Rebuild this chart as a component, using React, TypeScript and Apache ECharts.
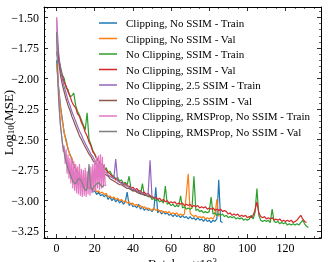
import React, { useEffect, useRef } from 'react';
import * as echarts from 'echarts';

const FONT = '"Liberation Serif", "Times New Roman", serif';

const seriesNames = [
  'Clipping, No SSIM - Train',
  'Clipping, No SSIM - Val',
  'No Clipping, SSIM - Train',
  'No Clipping, SSIM - Val',
  'No Clipping, 2.5 SSIM - Train',
  'No Clipping, 2.5 SSIM - Val',
  'No Clipping, RMSProp, No SSIM - Train',
  'No Clipping, RMSProp, No SSIM - Val',
];
const colors = ['#1f77b4', '#ff7f0e', '#2ca02c', '#d62728', '#9467bd', '#8c564b', '#e377c2', '#7f7f7f'];

// x step 1 (×10^3 batches)
const clipTrain = [
  -1.85, -2.06, -2.22, -2.33, -2.45, -2.50, -2.58, -2.62, -2.66, -2.72,
  -2.74, -2.78, -2.79, -2.83, -2.84, -2.87, -2.86, -2.90, -2.89, -2.93,
  -2.92, -2.95, -2.93, -2.96, -2.95, -2.97, -2.95, -2.99, -2.97, -3.00,
  -2.98, -3.01, -2.99, -3.02, -3.00, -3.03, -3.01, -2.93, -3.04, -3.02,
  -3.05, -3.04, -3.06, -3.03, -3.07, -3.05, -3.08, -3.06, -3.08, -3.07,
  -3.09, -3.07, -2.89, -3.10, -3.08, -3.11, -3.09, -3.11, -3.10, -3.12,
  -3.11, -3.13, -3.11, -3.13, -3.12, -3.14, -3.12, -3.14, -3.13, -3.15,
  -3.13, -3.15, -3.14, -3.16, -3.14, -3.16, -3.15, -3.17, -3.15, -3.17,
  -3.16, -3.18, -3.16, -3.17, -3.15, -2.83, -3.17, -3.18,
];
const clipVal = [
  -1.88, -2.08, -2.24, -2.35, -2.44, -2.52, -2.57, -2.63, -2.65, -2.70,
  -2.73, -2.76, -2.79, -2.81, -2.83, -2.85, -2.86, -2.88, -2.88, -2.91,
  -2.90, -2.93, -2.92, -2.94, -2.93, -2.95, -2.94, -2.97, -2.96, -2.98,
  -2.97, -2.99, -2.98, -3.00, -2.99, -3.01, -3.00, -3.02, -3.01, -3.03,
  -3.02, -3.04, -3.03, -3.05, -3.04, -3.06, -3.05, -3.07, -3.06, -3.07,
  -3.08, -3.06, -3.08, -3.07, -3.09, -3.08, -3.10, -3.09, -3.10, -3.09,
  -3.11, -3.10, -3.11, -3.10, -3.12, -3.11, -3.12, -3.11, -2.95, -2.78,
  -3.10, -3.12, -3.13, -3.12, -3.14, -3.13, -3.14, -3.13, -3.15, -3.14,
  -3.15, -3.14, -3.15, -3.12, -2.99, -3.13,
];
const ssimTrain = [
  -1.80, -1.84, -1.90, -1.97, -2.00, -2.08, -2.09, -2.15, -2.14, -2.12,
  -2.22, -2.27, -2.30, -2.34, -2.38, -2.42, -2.28, -2.50, -2.54, -2.59,
  -2.62, -2.66, -2.68, -2.71, -2.70, -2.74, -2.73, -2.77, -2.76, -2.79,
  -2.80, -2.82, -2.81, -2.84, -2.83, -2.86, -2.85, -2.87, -2.80, -2.90,
  -2.92, -2.91, -2.93, -2.92, -2.95, -2.86, -2.96, -2.95, -2.97, -2.96,
  -2.99, -2.98, -3.00, -2.99, -3.01, -3.00, -3.02, -2.88, -3.03, -3.02,
  -3.04, -3.03, -3.05, -3.04, -3.05, -2.96, -3.06, -3.05, -3.07, -3.06,
  -3.07, -3.06, -2.80, -3.08, -3.07, -3.09, -3.08, -3.10, -3.09, -3.10,
  -3.09, -2.97, -3.11, -3.10, -3.12, -3.11, -3.12, -3.11, -3.13, -3.12,
  -3.14, -3.13, -3.14, -3.13, -3.15, -3.14, -3.15, -3.14, -3.16, -3.15,
  -3.16, -3.15, -3.12, -3.15, -3.10, -2.90, -3.12, -3.16, -3.17, -3.16,
  -3.17, -3.16, -3.18, -3.07, -3.17, -3.18, -3.17, -3.19, -3.18, -3.19,
  -3.18, -3.20, -3.19, -3.20, -3.19, -3.20, -3.19, -3.20, -3.18, -3.16,
  -3.19, -3.21, -3.22,
];
const ssimVal = [
  -1.78, -1.83, -1.92, -1.98, -2.03, -2.06, -2.11, -2.14, -2.19, -2.22,
  -2.24, -2.29, -2.31, -2.36, -2.39, -2.44, -2.47, -2.52, -2.55, -2.60,
  -2.62, -2.65, -2.67, -2.70, -2.71, -2.74, -2.75, -2.77, -2.78, -2.80,
  -2.81, -2.83, -2.83, -2.85, -2.85, -2.87, -2.86, -2.88, -2.88, -2.90,
  -2.89, -2.91, -2.90, -2.92, -2.92, -2.94, -2.93, -2.95, -2.94, -2.96,
  -2.97, -2.98, -2.97, -2.99, -2.98, -3.00, -2.99, -3.01, -3.00, -3.02,
  -3.01, -3.02, -3.01, -3.03, -3.02, -3.03, -3.02, -3.04, -3.03, -3.04,
  -3.03, -3.05, -3.04, -3.05, -3.04, -3.06, -3.05, -3.06, -3.05, -3.07,
  -3.06, -3.07, -3.06, -3.08, -3.07, -3.08, -3.07, -3.09, -3.08, -3.09,
  -3.11, -3.10, -3.12, -3.11, -3.12, -3.11, -3.13, -3.12, -3.13, -3.12,
  -3.14, -3.13, -3.14, -3.12, -3.08, -3.01, -3.10, -3.13, -3.14, -3.13,
  -3.15, -3.14, -3.15, -3.14, -3.16, -3.15, -3.16, -3.15, -3.17, -3.16,
  -3.17, -3.16, -3.17, -3.16, -3.18, -3.17, -3.16, -3.14, -3.12, -3.15,
  -3.17, -3.18,
];
const ssim25Train = [
  -1.50, -1.78, -1.92, -2.00, -2.07, -2.12, -2.18, -2.22, -2.27, -2.31,
  -2.35, -2.39, -2.43, -2.46, -2.50, -2.53, -2.56, -2.59, -2.62, -2.64,
  -2.67, -2.69, -2.71, -2.73, -2.74, -2.76, -2.77, -2.79, -2.80, -2.81,
  -2.82, -2.66, -2.84, -2.85, -2.86, -2.86, -2.88, -2.88, -2.89, -2.90,
  -2.91, -2.91, -2.92, -2.93, -2.93, -2.94, -2.95, -2.95, -2.94, -2.67,
  -2.97, -2.97, -2.98,
];
const ssim25Val = [
  -1.62, -1.85, -1.97, -2.05, -2.11, -2.17, -2.22, -2.26, -2.31, -2.35,
  -2.39, -2.43, -2.47, -2.50, -2.53, -2.56, -2.59, -2.62, -2.64, -2.67,
  -2.69, -2.71, -2.73, -2.75, -2.76, -2.78, -2.79, -2.80, -2.82, -2.83,
  -2.84, -2.85, -2.86, -2.87, -2.87, -2.88, -2.89, -2.90, -2.90, -2.91,
  -2.92, -2.92, -2.93, -2.94, -2.94, -2.95, -2.95, -2.96, -2.96, -2.97,
  -2.97, -2.98, -2.98,
];
// x step 0.5
const rmsTrain = [
  -1.50, -1.85, -2.10, -2.25, -2.38, -2.45, -2.52, -2.60, -2.55, -2.70,
  -2.58, -2.78, -2.62, -2.82, -2.65, -2.86, -2.66, -2.90, -2.68, -2.92,
  -2.70, -2.94, -2.72, -2.95, -2.70, -2.96, -2.74, -2.97, -2.75, -2.96,
  -2.73, -2.97, -2.76, -2.95, -2.74, -2.96, -2.72, -2.94, -2.70, -2.93,
  -2.66, -2.92, -2.64, -2.90, -2.63, -2.91, -2.62, -2.90, -2.64, -2.89,
  -2.70, -2.88, -2.87,
];
const rmsVal = [
  -1.62, -1.95, -2.15, -2.28, -2.38, -2.45, -2.52, -2.57, -2.61, -2.65,
  -2.68, -2.71, -2.74, -2.76, -2.78, -2.80, -2.82, -2.84, -2.85, -2.86,
  -2.86, -2.85, -2.83, -2.82, -2.82, -2.83, -2.84, -2.86, -2.88, -2.90,
  -2.91, -2.92, -2.90, -2.80, -2.70, -2.82, -2.90, -2.91, -2.90, -2.89,
  -2.88, -2.87, -2.86, -2.86, -2.85, -2.86, -2.87, -2.88, -2.89, -2.88,
  -2.87,
];

const seriesValues = [clipTrain, clipVal, ssimTrain, ssimVal, ssim25Train, ssim25Val, rmsTrain, rmsVal];
const seriesSteps = [1, 1, 1, 1, 1, 1, 0.5, 0.5];

const X_MIN = -6.6;
const X_MAX = 138.6;
const Y_MIN = -3.306;
const Y_MAX = -1.414;

function fmtY(v: number) {
  const r = Math.round(v * 100) / 100;
  if (Math.abs(r * 4 - Math.round(r * 4)) > 1e-6) return '';
  return (r < 0 ? '\u2212' : '') + Math.abs(r).toFixed(2);
}
function fmtX(v: number) {
  const r = Math.round(v * 1000) / 1000;
  if (Math.abs(r / 20 - Math.round(r / 20)) > 1e-6) return '';
  return String(Math.round(r));
}

export default function App() {
  const ref = useRef<HTMLDivElement>(null);
  useEffect(() => {
    const chart = echarts.init(ref.current!, null, { renderer: 'svg' });
    const tickCommon = {
      axisLine: { show: true, onZero: false, lineStyle: { color: '#000', width: 1 } },
      axisTick: { show: true, inside: true, length: 4, lineStyle: { color: '#000', width: 0.8 } },
      splitLine: { show: false },
    };
    const xBase = {
      type: 'value' as const,
      min: X_MIN,
      max: X_MAX,
      minInterval: 20,
      maxInterval: 20,
      ...tickCommon,
      minorTick: { show: true, splitNumber: 4, length: 2, lineStyle: { color: '#000', width: 0.6 } },
    };
    const yBase = {
      type: 'value' as const,
      min: Y_MIN,
      max: Y_MAX,
      minInterval: 0.25,
      maxInterval: 0.25,
      ...tickCommon,
      minorTick: { show: true, splitNumber: 5, length: 2, lineStyle: { color: '#000', width: 0.6 } },
    };
    chart.setOption({
      animation: false,
      grid: { left: 44, right: 8, top: 7, bottom: 24, containLabel: false, outerBoundsMode: 'none' },
      legend: {
        orient: 'vertical',
        left: 99,
        top: 17,
        padding: 0,
        icon: 'rect',
        itemWidth: 18,
        itemHeight: 1.5,
        itemGap: 3.5,
        textStyle: { fontFamily: FONT, fontSize: 11, color: '#000', lineHeight: 12, padding: [0, 0, 0, 4] },
        data: seriesNames,
      },
      xAxis: [
        {
          ...xBase,
          position: 'bottom',
          axisLabel: { formatter: fmtX, margin: 4, fontFamily: FONT, fontSize: 12, color: '#000' },
          name: 'Batches \u00d710{sup|3}',
          nameLocation: 'middle',
          nameGap: 18,
          nameMoveOverlap: false,
          nameTextStyle: {
            fontFamily: FONT,
            fontSize: 13,
            color: '#000',
            verticalAlign: 'top',
            rich: { sup: { fontFamily: FONT, fontSize: 9, color: '#000', verticalAlign: 'top', padding: [0, 0, 6, 0] } },
          },
        },
        { ...xBase, position: 'top', axisLabel: { show: false } },
      ],
      yAxis: [
        {
          ...yBase,
          position: 'left',
          axisLabel: { formatter: fmtY, margin: 5, fontFamily: FONT, fontSize: 12, color: '#000' },
          name: 'Log{sub|10}(MSE)',
          nameLocation: 'middle',
          nameGap: 29,
          nameRotate: 90,
          nameMoveOverlap: false,
          nameTextStyle: {
            fontFamily: FONT,
            fontSize: 13,
            color: '#000',
            rich: { sub: { fontFamily: FONT, fontSize: 9, color: '#000', padding: [5, 0, 0, 0] } },
          },
        },
        { ...yBase, position: 'right', axisLabel: { show: false } },
      ],
      series: seriesValues.map((vals, k) => ({
        type: 'line',
        name: seriesNames[k],
        xAxisIndex: 0,
        yAxisIndex: 0,
        data: vals.map((v, i) => [i * seriesSteps[k], v]),
        symbol: 'none',
        showSymbol: false,
        clip: true,
        lineStyle: { width: 1.2, color: colors[k] },
        itemStyle: { color: colors[k] },
        z: 2 + k,
      })),
    });
    return () => chart.dispose();
  }, []);
  return <div ref={ref} style={{ position: 'fixed', left: 0, top: 0, width: 329, height: 262 }} />;
}
